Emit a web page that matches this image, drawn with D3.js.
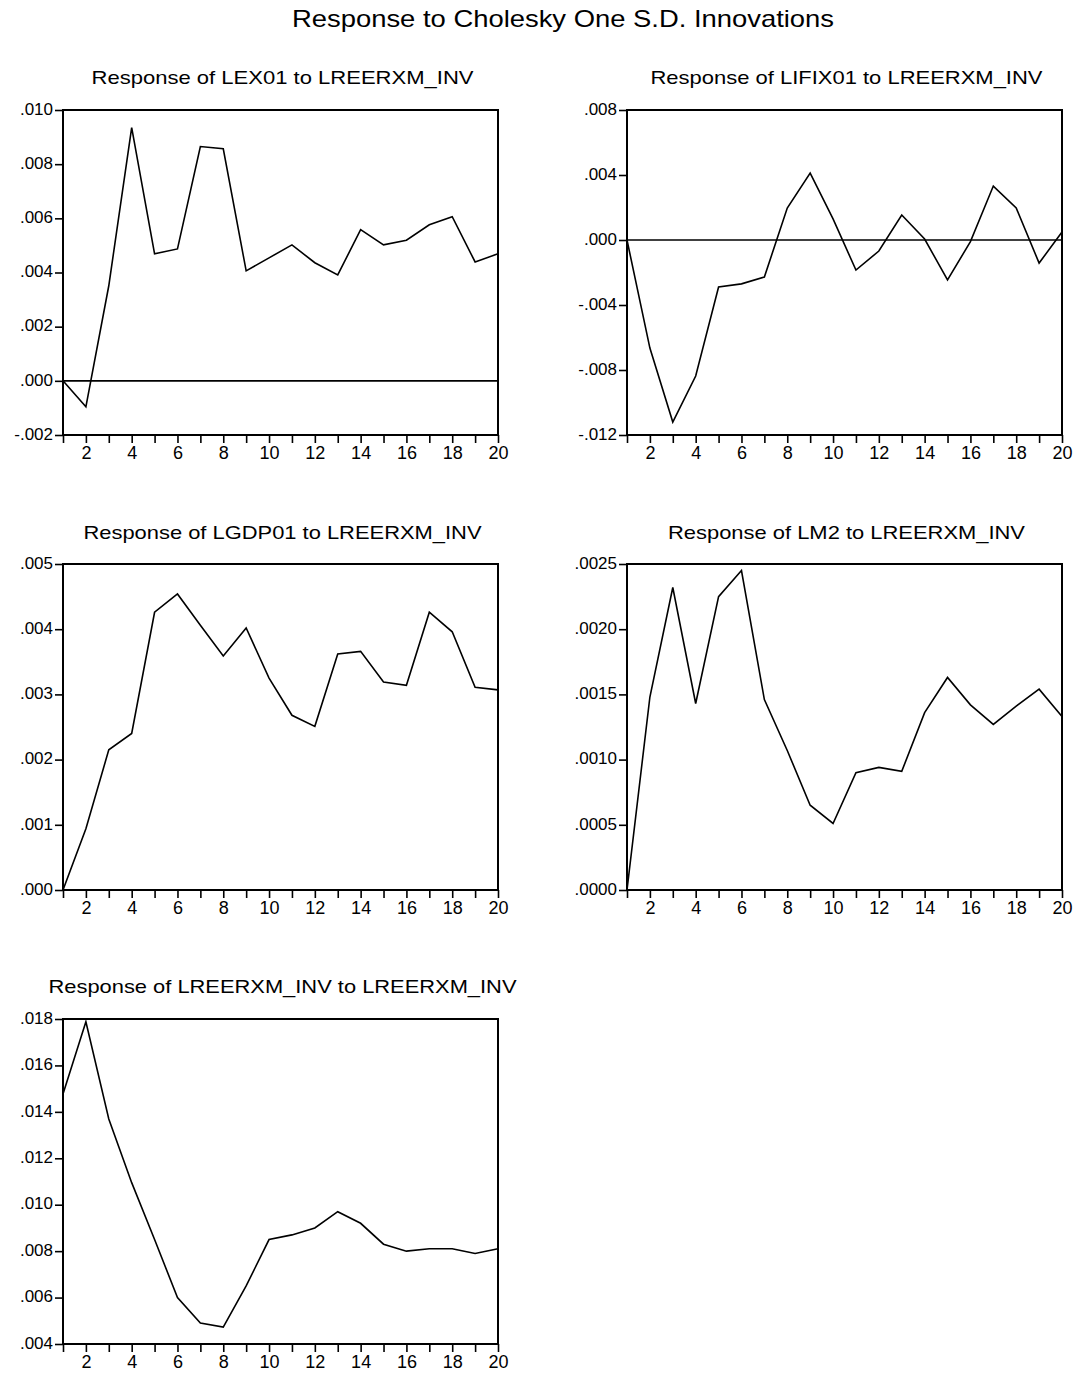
<!DOCTYPE html>
<html>
<head>
<meta charset="utf-8">
<script src="https://cdn.jsdelivr.net/npm/d3@7"></script>
<style>
  html, body { margin: 0; padding: 0; background: #fff; }
  svg { display: block; font-family: "Liberation Sans", Arial, sans-serif; }
</style>
</head>
<body>
<svg id="chart" width="1079" height="1373"></svg>
<script>
// ---------------- DATA ----------------
const mainTitle = "Response to Cholesky One S.D. Innovations";
const periods = [1,2,3,4,5,6,7,8,9,10,11,12,13,14,15,16,17,18,19,20];
const xTickLabels = [2,4,6,8,10,12,14,16,18,20];

const titles = [
  "Response of LEX01 to LREERXM_INV",
  "Response of LIFIX01 to LREERXM_INV",
  "Response of LGDP01 to LREERXM_INV",
  "Response of LM2 to LREERXM_INV",
  "Response of LREERXM_INV to LREERXM_INV"
];

const lex01 = [0.0000, -0.00096, 0.00351, 0.00935, 0.00469, 0.00487, 0.00865, 0.00857, 0.00406, 0.00454,
               0.00502, 0.00436, 0.00391, 0.00558, 0.00502, 0.00519, 0.00576, 0.00606, 0.00439, 0.00469];
const lifix01 = [0.0000, -0.00665, -0.0112, -0.00837, -0.00289, -0.0027, -0.00228, 0.00197, 0.00412, 0.0013,
                 -0.00185, -0.00068, 0.00154, 0.00006, -0.00246, -0.0001, 0.00332, 0.00197, -0.00142, 0.00049];
const lgdp01 = [0.0000, 0.00094, 0.00215, 0.00240, 0.00426, 0.00454, 0.00406, 0.00359, 0.00402, 0.00325,
                0.00268, 0.00251, 0.00362, 0.00366, 0.00319, 0.00314, 0.00426, 0.00396, 0.00311, 0.00307];
const lm2 = [0.0000, 0.00148, 0.00232, 0.00143, 0.00225, 0.00245, 0.00146, 0.00107, 0.00065, 0.00051,
             0.00090, 0.00094, 0.00091, 0.00136, 0.00163, 0.00142, 0.00127, 0.00141, 0.00154, 0.00133];
const lreerxm = [0.01477, 0.01788, 0.01369, 0.01095, 0.0085, 0.0060, 0.0049, 0.00473, 0.0065, 0.0085,
                 0.0087, 0.0090, 0.0097, 0.0092, 0.0083, 0.0080, 0.0081, 0.0081, 0.0079, 0.0081];

const yTicks1 = [-0.002, 0.000, 0.002, 0.004, 0.006, 0.008, 0.010];
const yTicks2 = [-0.012, -0.008, -0.004, 0.000, 0.004, 0.008];
const yTicks3 = [0.000, 0.001, 0.002, 0.003, 0.004, 0.005];
const yTicks4 = [0.0000, 0.0005, 0.0010, 0.0015, 0.0020, 0.0025];
const yTicks5 = [0.004, 0.006, 0.008, 0.010, 0.012, 0.014, 0.016, 0.018];

const series = [lex01, lifix01, lgdp01, lm2, lreerxm];
const yTickSets = [yTicks1, yTicks2, yTicks3, yTicks4, yTicks5];
const decimals = [3, 3, 3, 4, 3];

// ---------------- LAYOUT ----------------
const frames = [
  {x0: 63,  x1: 498,  y0: 110,  y1: 435,  ty: 84},
  {x0: 627, x1: 1062, y0: 110,  y1: 435,  ty: 84},
  {x0: 63,  x1: 498,  y0: 564,  y1: 890,  ty: 539},
  {x0: 627, x1: 1062, y0: 564,  y1: 890,  ty: 539},
  {x0: 63,  x1: 498,  y0: 1019, y1: 1344, ty: 993}
];
const titleWidths = [382, 392, 398, 357, 468];

const svg = d3.select("#chart");

svg.append("text")
  .attr("x", 563).attr("y", 27)
  .attr("text-anchor", "middle")
  .attr("font-size", 24)
  .attr("textLength", 542)
  .attr("lengthAdjust", "spacingAndGlyphs")
  .text(mainTitle);

function fmt(d, n) {
  return d3.format("." + n + "f")(d).replace(/\u2212/g, "-").replace(/^(-?)0\./, "$1.");
}

series.forEach((vals, i) => {
  const f = frames[i];
  const ticks = yTickSets[i];
  const g = svg.append("g");
  const x = d3.scaleLinear().domain([1, 20]).range([f.x0, f.x1]);
  const y = d3.scaleLinear().domain([d3.min(ticks), d3.max(ticks)]).range([f.y1, f.y0]);

  // title
  g.append("text")
    .attr("x", (f.x0 + f.x1) / 2 + 2).attr("y", f.ty)
    .attr("text-anchor", "middle")
    .attr("font-size", 19)
    .attr("textLength", titleWidths[i])
    .attr("lengthAdjust", "spacingAndGlyphs")
    .text(titles[i]);

  // y axis
  const yAxis = d3.axisLeft(y).tickValues(ticks).tickSize(8).tickPadding(2)
    .tickFormat(d => fmt(d, decimals[i]));
  const ya = g.append("g").attr("transform", `translate(${f.x0},0)`).call(yAxis);
  ya.select(".domain").remove();
  ya.selectAll("line").attr("stroke", "#000").attr("stroke-width", 1.6);
  ya.selectAll("text").attr("font-size", 17).attr("fill", "#000")
    .attr("font-family", "'Liberation Sans', Arial, sans-serif").attr("dy", "0.25em");

  // x axis
  const xAxis = d3.axisBottom(x).tickValues(periods).tickSize(8).tickPadding(3)
    .tickFormat(d => xTickLabels.includes(d) ? String(d) : "");
  const xa = g.append("g").attr("transform", `translate(0,${f.y1})`).call(xAxis);
  xa.select(".domain").remove();
  xa.selectAll("line").attr("stroke", "#000").attr("stroke-width", 1.6);
  xa.selectAll("text").attr("font-size", 18).attr("fill", "#000")
    .attr("font-family", "'Liberation Sans', Arial, sans-serif");

  // zero line
  if (y.domain()[0] < 0 && y.domain()[1] > 0) {
    g.append("line")
      .attr("x1", f.x0).attr("x2", f.x1)
      .attr("y1", y(0)).attr("y2", y(0))
      .attr("stroke", "#000").attr("stroke-width", 1.6);
  }

  // data line
  const line = d3.line().x((d, j) => x(periods[j])).y(d => y(d));
  g.append("path")
    .datum(vals)
    .attr("d", line)
    .attr("fill", "none")
    .attr("stroke", "#000")
    .attr("stroke-width", 1.6)
    .attr("stroke-linejoin", "miter");

  // frame
  g.append("rect")
    .attr("x", f.x0).attr("y", f.y0)
    .attr("width", f.x1 - f.x0).attr("height", f.y1 - f.y0)
    .attr("fill", "none").attr("stroke", "#000").attr("stroke-width", 2);
});
</script>
</body>
</html>
